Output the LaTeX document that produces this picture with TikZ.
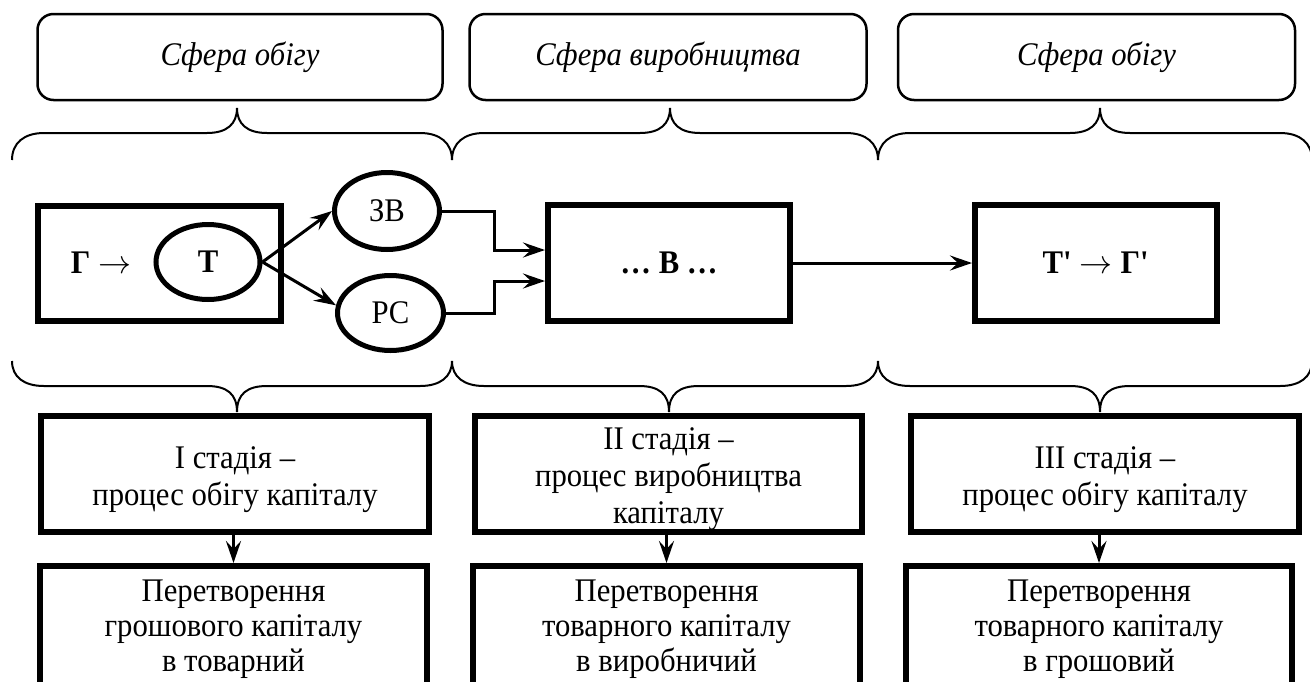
\RequirePackage{fix-cm}
\documentclass[tikz,border=0pt]{standalone}
\usepackage{fontspec}
\setmainfont{Liberation Serif}[FakeStretch=0.93]
\usetikzlibrary{shapes.geometric,arrows.meta}
\newcommand\firststrut{\rule{0pt}{33pt}}
\begin{document}
\begin{tikzpicture}[x=1pt,y=-1pt,
  every node/.style={font=\fontsize{33}{36}\selectfont, inner sep=0pt},
  thickbox/.style={draw, line width=6pt, align=center},
  roundbox/.style={draw, line width=2.5pt, rounded corners=16pt, minimum height=86pt, font=\fontsize{33}{36}\selectfont\itshape},
  oval/.style={draw, ellipse, line width=5pt},
  conn/.style={line width=3pt, -{Stealth[length=22pt,width=15pt,inset=8pt]}},
  bracepath/.style={line width=2pt},
]
\useasboundingbox (0,0) rectangle (1310,681);
\clip (0,0) rectangle (1310,681);

% top boxes
\node[roundbox, minimum width=405pt] (A1) at (240,57) {Сфера обігу};
\node[roundbox, minimum width=397pt] (A2) at (668,57) {Сфера виробництва};
\node[roundbox, minimum width=397pt] (A3) at (1096.5,57) {Сфера обігу};

% upper braces
\foreach \a/\c/\b in {12/237/452, 452/670/878, 878/1100/1312}{
  \draw[bracepath] (\a,160) .. controls (\a,143) and (\a+12,133) .. (\a+32,133)
    -- (\c-30,133) .. controls (\c-10,133) and (\c,124) .. (\c,108)
    .. controls (\c,124) and (\c+10,133) .. (\c+30,133)
    -- (\b-32,133) .. controls (\b-12,133) and (\b,143) .. (\b,160);
}
% lower braces
\foreach \a/\c/\b in {12/237/452, 452/669/878, 878/1100/1312}{
  \draw[bracepath] (\a,361) .. controls (\a,377) and (\a+12,386) .. (\a+32,386)
    -- (\c-30,386) .. controls (\c-10,386) and (\c,394) .. (\c,412)
    .. controls (\c,394) and (\c+10,386) .. (\c+30,386)
    -- (\b-32,386) .. controls (\b-12,386) and (\b,377) .. (\b,361);
}

% middle row
\node[thickbox, minimum width=243pt, minimum height=115pt] (GT) at (159.5,263.5) {};
\node (glabel) at (101,263) {\textbf{Г} $\rightarrow$};
\node[oval, minimum width=104pt, minimum height=75pt] (T) at (208,262) {\textbf{Т}};
\node[oval, minimum width=105pt, minimum height=77pt] (ZV) at (387,211) {ЗВ};
\node[oval, minimum width=106pt, minimum height=75pt] (PC) at (390.5,313) {РС};
\node[thickbox, minimum width=242pt, minimum height=116pt] (B) at (669,263) {\textbf{… В …}};
\node[thickbox, minimum width=242pt, minimum height=116pt] (Tp) at (1096,263) {\textbf{Т\textquotesingle} $\rightarrow$ \textbf{Г\textquotesingle}};

\draw[conn] (T.east) -- (ZV.west);
\draw[conn] (T.east) -- (PC.172);
\draw[conn] (ZV.east) -- ++(52,0) |- ([yshift=13pt]B.west);
\draw[conn] (PC.east) -- ++(48,0) |- ([yshift=-18pt]B.west);
\draw[conn] (B) -- (Tp);

% stage boxes
\begin{scope}[every node/.append style={font=\fontsize{33}{37}\selectfont}]
\node[thickbox, minimum width=388pt, minimum height=116pt] (S1) at (235,474) {\firststrut I стадія –\\процес обігу капіталу};
\node[thickbox, minimum width=387pt, minimum height=116pt] (S2) at (668.5,474) {\firststrut II стадія –\\процес виробництва\\капіталу};
\node[thickbox, minimum width=388pt, minimum height=116pt] (S3) at (1105,474) {\firststrut III стадія –\\процес обігу капіталу};
\end{scope}

\begin{scope}[every node/.append style={font=\fontsize{33}{35}\selectfont}]
\node[thickbox, minimum width=387pt, minimum height=126pt] (S1b) at (233.5,629) {Перетворення\\грошового капіталу\\в товарний};
\node[thickbox, minimum width=387pt, minimum height=126pt] (S2b) at (666.5,629) {Перетворення\\товарного капіталу\\в виробничий};
\node[thickbox, minimum width=386pt, minimum height=126pt] (S3b) at (1099,629) {Перетворення\\товарного капіталу\\в грошовий};
\end{scope}

\draw[conn] (S1b.north |- S1.south) -- (S1b.north);
\draw[conn] (S2b.north |- S2.south) -- (S2b.north);
\draw[conn] (S3b.north |- S3.south) -- (S3b.north);
\end{tikzpicture}
\end{document}
